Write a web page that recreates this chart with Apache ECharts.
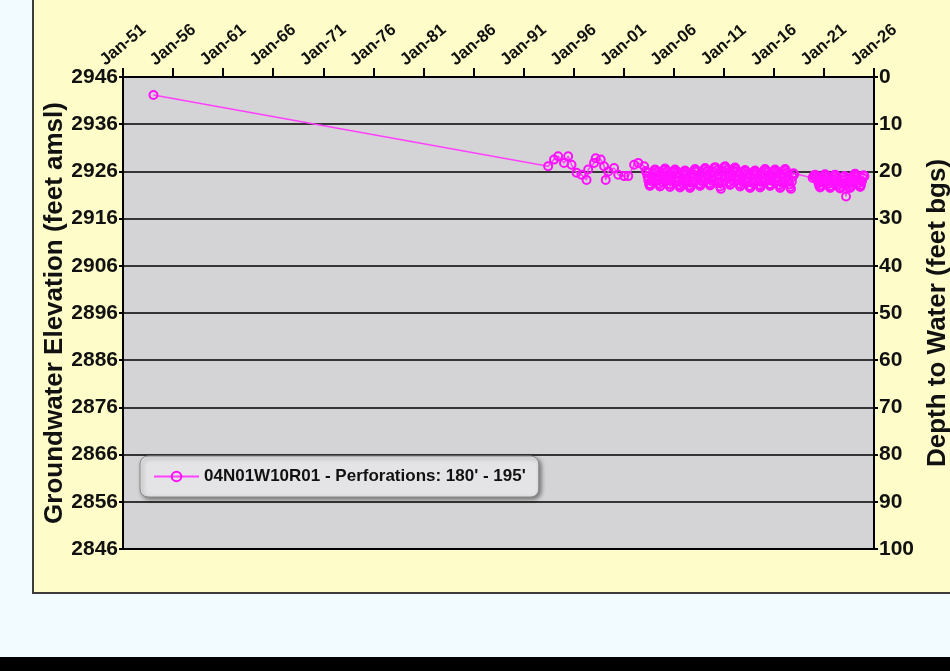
<!DOCTYPE html>
<html>
<head>
<meta charset="utf-8">
<title>04N01W10R01 Hydrograph</title>
<script src="https://cdn.jsdelivr.net/npm/echarts@6/dist/echarts.min.js"></script>
<style>
  html, body { margin: 0; padding: 0; background: #f2fbff; }
  #chart { width: 950px; height: 671px; }
</style>
</head>
<body>
<div id="chart"></div>
<script>
// Well 04N01W10R01 – measured depth to water (feet below ground surface)
const wellLabel = "04N01W10R01 - Perforations: 180' - 195'";
const groundSurface = 2946; // feet amsl, elevation = groundSurface - depth

const sampleDates = [
  '1954-01',
  '1993-06', '1994-01', '1994-06', '1995-01', '1995-06', '1995-10', '1996-04', '1996-10',
  '1997-04', '1997-06', '1998-01', '1998-03', '1998-09', '1999-01', '1999-03', '1999-06',
  '2000-01', '2000-06', '2001-01', '2001-06', '2002-01', '2002-06', '2003-01',
  '2003-03', '2003-04', '2003-05', '2003-06', '2003-07', '2003-08', '2003-09', '2003-10', '2003-11', '2003-12',
  '2004-01', '2004-02', '2004-03', '2004-04', '2004-05', '2004-06', '2004-07', '2004-08', '2004-09', '2004-10', '2004-11', '2004-12',
  '2005-01', '2005-02', '2005-03', '2005-04', '2005-05', '2005-06', '2005-07', '2005-08', '2005-09', '2005-10', '2005-11', '2005-12',
  '2006-01', '2006-02', '2006-03', '2006-04', '2006-05', '2006-06', '2006-07', '2006-08', '2006-09', '2006-10', '2006-11', '2006-12',
  '2007-01', '2007-02', '2007-03', '2007-04', '2007-05', '2007-06', '2007-07', '2007-08', '2007-09', '2007-10', '2007-11', '2007-12',
  '2008-01', '2008-02', '2008-03', '2008-04', '2008-05', '2008-06', '2008-07', '2008-08', '2008-09', '2008-10', '2008-11', '2008-12',
  '2009-01', '2009-02', '2009-03', '2009-04', '2009-05', '2009-06', '2009-07', '2009-08', '2009-09', '2009-10', '2009-11', '2009-12',
  '2010-01', '2010-02', '2010-03', '2010-04', '2010-05', '2010-06', '2010-07', '2010-08', '2010-09', '2010-10', '2010-11', '2010-12',
  '2011-01', '2011-02', '2011-03', '2011-04', '2011-05', '2011-06', '2011-07', '2011-08', '2011-09', '2011-10', '2011-11', '2011-12',
  '2012-01', '2012-02', '2012-03', '2012-04', '2012-05', '2012-06', '2012-07', '2012-08', '2012-09', '2012-10', '2012-11', '2012-12',
  '2013-01', '2013-02', '2013-03', '2013-04', '2013-05', '2013-06', '2013-07', '2013-08', '2013-09', '2013-10', '2013-11', '2013-12',
  '2014-01', '2014-02', '2014-03', '2014-04', '2014-05', '2014-06', '2014-07', '2014-08', '2014-09', '2014-10', '2014-11', '2014-12',
  '2015-01', '2015-02', '2015-03', '2015-04', '2015-05', '2015-06', '2015-07', '2015-08', '2015-09', '2015-10', '2015-11', '2015-12',
  '2016-01', '2016-02', '2016-03', '2016-04', '2016-05', '2016-06', '2016-07', '2016-08', '2016-09', '2016-10', '2016-11', '2016-12',
  '2017-01', '2017-02', '2017-03', '2017-04', '2017-05', '2017-06', '2017-07', '2017-08', '2017-09', '2017-10', '2017-11', '2017-12',
  '2018-01',
  '2019-11', '2019-12',
  '2020-01', '2020-02', '2020-03', '2020-04', '2020-05', '2020-06', '2020-07', '2020-08', '2020-09', '2020-10', '2020-11', '2020-12',
  '2021-01', '2021-02', '2021-03', '2021-04', '2021-05', '2021-06', '2021-07', '2021-08', '2021-09', '2021-10', '2021-11', '2021-12',
  '2022-01', '2022-02', '2022-03', '2022-04', '2022-05', '2022-06', '2022-07', '2022-08', '2022-09', '2022-10', '2022-11', '2022-12',
  '2023-01', '2023-02', '2023-03', '2023-04', '2023-05', '2023-06', '2023-07', '2023-08', '2023-09', '2023-10', '2023-11', '2023-12',
  '2024-01', '2024-02', '2024-03', '2024-04', '2024-05', '2024-06', '2024-07', '2024-08', '2024-09', '2024-10', '2024-11', '2024-12',
  '2025-01'
];

const depthToWater = [
  3.8,
  18.9, 17.5, 16.8, 18.2, 16.8, 18.6, 20.3, 20.7,
  21.8, 19.6, 18.2, 17.2, 17.5, 18.9, 21.8, 20.0,
  19.3, 20.7, 21.0, 21.0, 18.6, 18.2, 18.9,
  19.9, 20.3, 21.0, 21.9, 22.7, 23.1, 22.8, 22.1, 21.2, 20.4,
  19.8, 19.6, 19.7, 20.2, 21.0, 21.8, 22.6, 23.2, 23.0, 22.2, 21.1, 20.3,
  19.7, 19.4, 19.6, 20.1, 20.9, 21.9, 22.8, 23.3, 22.9, 22.0, 21.0, 20.2,
  19.9, 19.6, 19.8, 20.4, 21.2, 22.1, 22.9, 23.4, 23.1, 22.4, 21.4, 20.5,
  20.0, 19.8, 20.1, 20.6, 21.4, 22.3, 23.0, 23.5, 23.2, 22.3, 21.3, 20.6,
  19.8, 19.5, 19.7, 20.1, 20.9, 21.7, 22.6, 23.1, 22.8, 22.0, 21.2, 20.3,
  19.6, 19.3, 19.5, 20.0, 20.8, 21.6, 22.5, 23.0, 22.7, 21.9, 21.0, 20.1,
  19.3, 19.1, 19.3, 19.8, 20.7, 21.6, 22.5, 23.2, 23.7, 22.4, 21.2, 20.0,
  19.1, 18.9, 19.2, 19.7, 20.5, 21.4, 22.3, 22.9, 22.6, 21.8, 20.8, 19.9,
  19.4, 19.2, 19.5, 20.0, 20.9, 21.8, 22.6, 23.2, 22.9, 22.1, 21.2, 20.4,
  19.9, 19.7, 20.0, 20.6, 21.4, 22.3, 23.1, 23.5, 23.2, 22.4, 21.5, 20.6,
  20.0, 19.8, 20.1, 20.5, 21.3, 22.1, 22.9, 23.4, 23.1, 22.2, 21.3, 20.5,
  19.7, 19.5, 19.8, 20.2, 21.0, 21.9, 22.7, 23.1, 22.8, 22.0, 21.0, 20.2,
  19.8, 19.6, 19.9, 20.4, 21.2, 22.1, 22.9, 23.5, 23.2, 22.3, 21.3, 20.5,
  19.7, 19.5, 19.8, 20.3, 21.1, 22.0, 22.8, 23.3, 23.7, 22.2, 21.2, 20.4,
  20.6,
  21.4, 21.0,
  20.8, 20.7, 20.9, 21.4, 21.9, 22.5, 23.1, 23.4, 23.0, 22.3, 21.6, 21.0,
  20.7, 20.6, 20.9, 21.3, 21.9, 22.6, 23.2, 23.5, 23.1, 22.4, 21.7, 21.1,
  20.8, 20.7, 21.0, 21.5, 22.1, 22.8, 23.4, 23.6, 23.2, 22.5, 21.8, 21.2,
  21.0, 21.6, 25.3, 22.4, 22.2, 22.7, 23.3, 23.5, 23.0, 22.3, 21.5, 20.9,
  20.6, 20.5, 20.8, 21.2, 21.8, 22.5, 23.1, 23.3, 22.9, 22.1, 21.4, 20.8,
  21.0
];

// Date axis runs from January 1951 to January 2026, labelled every five years
const firstYear = 1951;
const lastYear = 2026;
const labelStepYears = 5;

const FONT = 'Liberation Sans, Arial, sans-serif';

// x position = years elapsed since January of the first year
const seriesData = sampleDates.map((d, i) => {
  const [y, m] = d.split('-').map(Number);
  return [y + (m - 0.5) / 12 - firstYear, depthToWater[i]];
});

const chart = echarts.init(document.getElementById('chart'), null, { renderer: 'canvas' });

chart.setOption({
  animation: false,
  backgroundColor: '#f2fbff',
  graphic: [
    {
      type: 'rect', z: -100,
      shape: { x: 33, y: -10, width: 940, height: 603 },
      style: { fill: '#fefdca', stroke: '#3c3c3c', lineWidth: 2 }
    },
    {
      type: 'rect', z: -100,
      shape: { x: 0, y: 657, width: 950, height: 20 },
      style: { fill: '#000000' }
    }
  ],
  grid: {
    left: 123, right: 76, top: 77, bottom: 122,
    containLabel: false,
    outerBoundsMode: 'none',
    show: true,
    backgroundColor: '#d4d4d6',
    borderColor: '#000', borderWidth: 2
  },
  legend: {
    data: [wellLabel],
    left: 140, top: 456,
    orient: 'horizontal',
    itemWidth: 45, itemHeight: 12, itemGap: 10,
    padding: [12, 13],
    backgroundColor: '#e4e4e6',
    borderColor: '#8a8a8a', borderWidth: 1, borderRadius: 8,
    shadowColor: 'rgba(0,0,0,0.45)', shadowBlur: 4, shadowOffsetX: 2, shadowOffsetY: 2,
    textStyle: { fontFamily: FONT, fontWeight: 'bold', fontSize: 17, color: '#111' }
  },
  xAxis: {
    type: 'value',
    position: 'top',
    min: 0,
    max: lastYear - firstYear,
    interval: labelStepYears,
    axisLine: { show: true, lineStyle: { color: '#000', width: 2 } },
    axisTick: { show: true, inside: false, length: 9, lineStyle: { color: '#000', width: 2 } },
    splitLine: { show: false },
    axisLabel: {
      rotate: 40,
      margin: 32,
      align: 'center',
      verticalAlign: 'middle',
      fontFamily: FONT, fontWeight: 'bold', fontSize: 17, color: '#111',
      formatter: v => 'Jan-' + String(firstYear + v).slice(2)
    }
  },
  yAxis: [
    {
      type: 'value',
      position: 'left',
      min: 0, max: 100, interval: 10,
      inverse: true,
      name: 'Groundwater Elevation (feet amsl)',
      nameLocation: 'middle',
      nameRotate: 90,
      nameGap: 55,
      nameMoveOverlap: false,
      nameTextStyle: { fontFamily: FONT, fontWeight: 'bold', fontSize: 26, color: '#111' },
      axisLine: { show: true, lineStyle: { color: '#000', width: 2 } },
      axisTick: { show: true, length: 4, lineStyle: { color: '#000', width: 2 } },
      splitLine: { show: false },
      axisLabel: {
        margin: 5,
        fontFamily: FONT, fontWeight: 'bold', fontSize: 21, color: '#111',
        formatter: v => String(groundSurface - v)
      }
    },
    {
      type: 'value',
      position: 'right',
      min: 0, max: 100, interval: 10,
      inverse: true,
      name: 'Depth to Water (feet bgs)',
      nameLocation: 'middle',
      nameRotate: 90,
      nameGap: 50,
      nameTextStyle: { fontFamily: FONT, fontWeight: 'bold', fontSize: 26, color: '#111' },
      axisLine: { show: true, lineStyle: { color: '#000', width: 2 } },
      axisTick: { show: true, length: 4, lineStyle: { color: '#000', width: 2 } },
      splitLine: { show: true, lineStyle: { color: '#000', width: 1.5 } },
      axisLabel: {
        margin: 5,
        fontFamily: FONT, fontWeight: 'bold', fontSize: 21, color: '#111'
      }
    }
  ],
  series: [
    {
      name: wellLabel,
      type: 'line',
      yAxisIndex: 1,
      data: seriesData,
      symbol: 'circle',
      symbolSize: 8,
      showAllSymbol: true,
      itemStyle: { color: 'rgba(255,0,255,0)', borderColor: '#ff10ff', borderWidth: 2 },
      lineStyle: { color: '#ff40ff', width: 1.5 },
      emphasis: { disabled: true },
      z: 5
    }
  ]
});
</script>
</body>
</html>
